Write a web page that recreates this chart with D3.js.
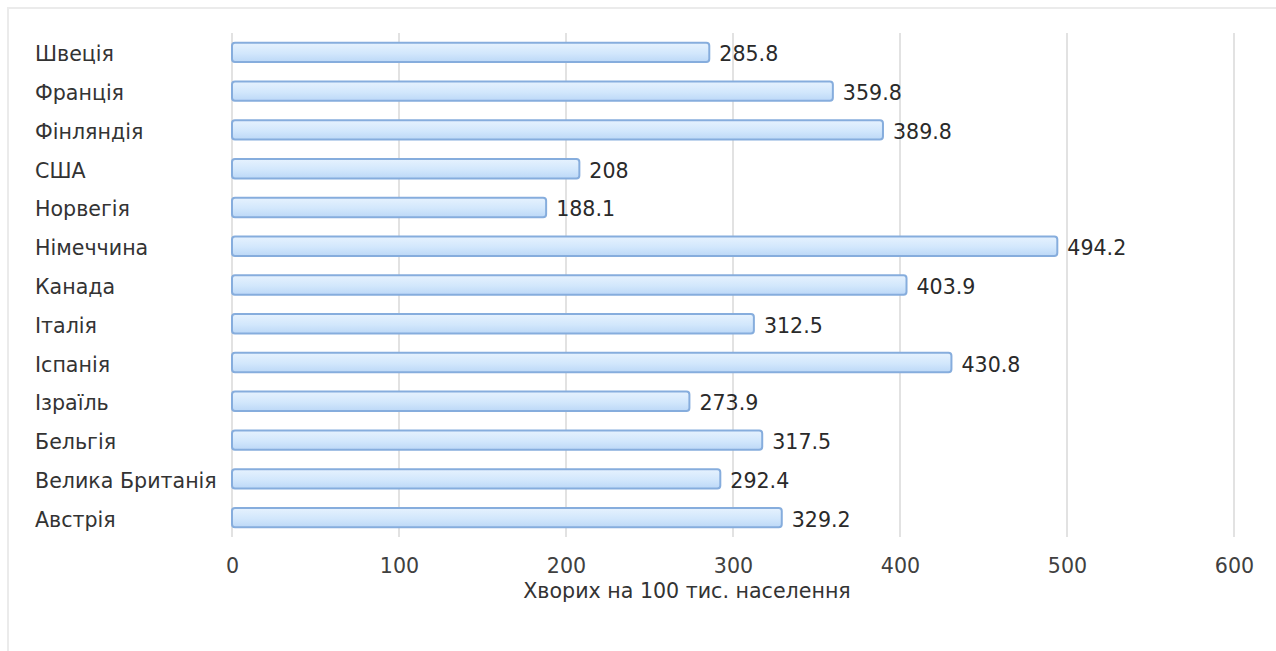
<!DOCTYPE html>
<html>
<head>
<meta charset="utf-8">
<script src="https://cdn.jsdelivr.net/npm/d3@7"></script>
<style>
  html, body { margin: 0; padding: 0; background: #fff; }
  svg { display: block; font-family: "DejaVu Sans", Verdana, sans-serif; }
</style>
</head>
<body>
<svg id="chart" width="1276" height="651"></svg>
<script>
// Країни (зверху вниз) та кількість хворих на 100 тис. населення
const countries = ["Швеція", "Франція", "Фінляндія", "США", "Норвегія", "Німеччина",
  "Канада", "Італія", "Іспанія", "Ізраїль", "Бельгія", "Велика Британія", "Австрія"];
const cases = [285.8, 359.8, 389.8, 208, 188.1, 494.2, 403.9, 312.5, 430.8, 273.9, 317.5, 292.4, 329.2];
const xTicks = [0, 100, 200, 300, 400, 500, 600];
const xTitle = "Хворих на 100 тис. населення";

const FONT_SIZE = 20.6;
const svg = d3.select("#chart");

// light outer frame
svg.append("rect")
  .attr("x", 8).attr("y", 8).attr("width", 1320).attr("height", 700)
  .attr("fill", "none").attr("stroke", "#ebebeb").attr("stroke-width", 2);

const x = d3.scaleLinear().domain([0, 600]).range([232, 1234]);
const y = d3.scaleBand().domain(countries).range([33, 537])
  .paddingInner(0.5).paddingOuter(0.25);

// bar fill gradient
const defs = svg.append("defs");
const grad = defs.append("linearGradient").attr("id", "barFill")
  .attr("x1", 0).attr("y1", 0).attr("x2", 0).attr("y2", 1);
grad.append("stop").attr("offset", "0%").attr("stop-color", "#e6f2fe");
grad.append("stop").attr("offset", "55%").attr("stop-color", "#d2e7fc");
grad.append("stop").attr("offset", "100%").attr("stop-color", "#bcd8f7");

// vertical gridlines
svg.append("g")
  .selectAll("line")
  .data(xTicks)
  .join("line")
  .attr("x1", d => x(d)).attr("x2", d => x(d))
  .attr("y1", 33).attr("y2", 537)
  .attr("stroke", "#e2e2e2").attr("stroke-width", 2);

// bottom axis tick labels
const axis = svg.append("g")
  .attr("transform", "translate(0,560)")
  .call(d3.axisBottom(x).tickValues(xTicks).tickSize(0).tickPadding(0).tickFormat(d3.format("d")));
axis.select(".domain").remove();
axis.selectAll("text")
  .attr("dy", "0")
  .attr("y", 13)
  .attr("font-size", FONT_SIZE)
  .attr("font-family", "DejaVu Sans, Verdana, sans-serif")
  .attr("fill", "#404040");

// axis title
svg.append("text")
  .attr("x", 687).attr("y", 598)
  .attr("text-anchor", "middle")
  .attr("font-size", FONT_SIZE)
  .attr("fill", "#333")
  .text(xTitle);

const data = countries.map((c, i) => ({ country: c, value: cases[i] }));

// bars
svg.append("g")
  .selectAll("rect")
  .data(data)
  .join("rect")
  .attr("x", x(0))
  .attr("y", d => y(d.country))
  .attr("width", d => x(d.value) - x(0))
  .attr("height", y.bandwidth())
  .attr("rx", 3).attr("ry", 3)
  .attr("fill", "url(#barFill)")
  .attr("stroke", "#86addd")
  .attr("stroke-width", 2);

// category labels
svg.append("g")
  .selectAll("text")
  .data(data)
  .join("text")
  .attr("x", 35)
  .attr("y", d => y(d.country) + y.bandwidth() / 2 + 9)
  .attr("font-size", FONT_SIZE)
  .attr("fill", "#333")
  .text(d => d.country);

// value labels
svg.append("g")
  .selectAll("text")
  .data(data)
  .join("text")
  .attr("x", d => x(d.value) + 10)
  .attr("y", d => y(d.country) + y.bandwidth() / 2 + 9)
  .attr("font-size", FONT_SIZE)
  .attr("fill", "#2a2a2a")
  .text(d => d.value);
</script>
</body>
</html>
